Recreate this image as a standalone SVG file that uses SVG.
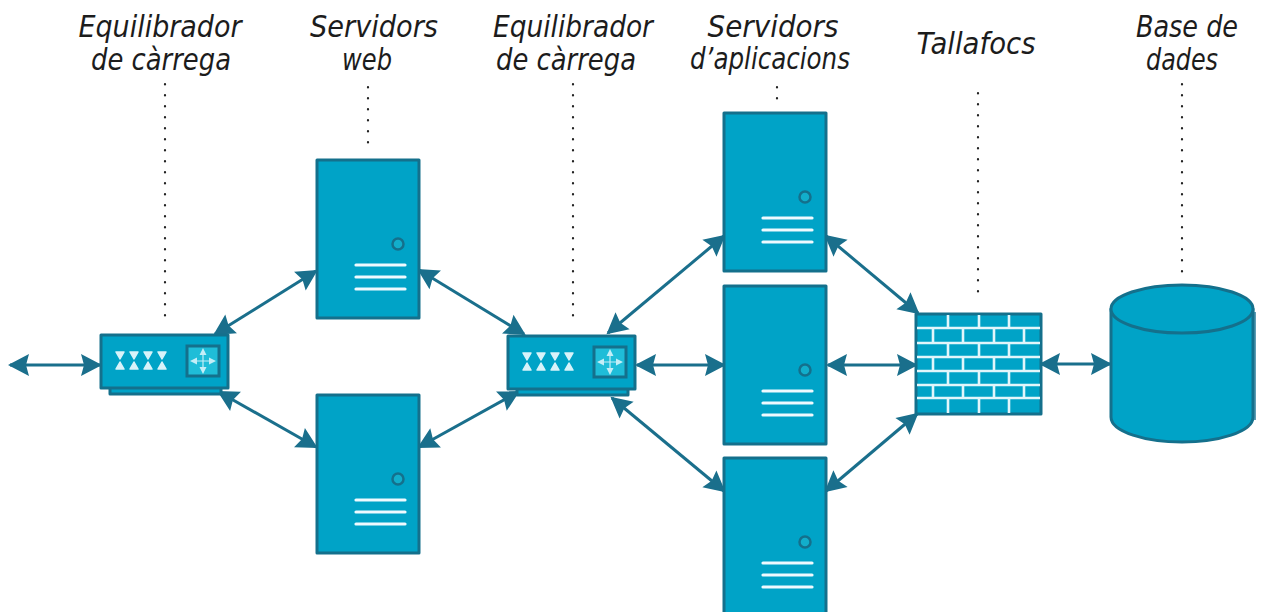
<svg xmlns="http://www.w3.org/2000/svg" width="1269" height="612" viewBox="0 0 1269 612">
<style>
.f{fill:#00a3c7;stroke:#14708c;stroke-width:3;stroke-linejoin:round}
.w{fill:none;stroke:#eefaff;stroke-width:3.2;stroke-linecap:round}
.c{fill:none;stroke:#1a6f8c;stroke-width:3;marker-start:url(#a);marker-end:url(#a)}
.d{fill:none;stroke:#222;stroke-width:2.2;stroke-dasharray:.5 10.5;stroke-linecap:round}
.t{font-family:"DejaVu Sans",sans-serif;font-style:italic;font-size:30px;fill:#1c1c1c;text-anchor:middle}
.b{fill:none;stroke:#e2f6fb;stroke-width:2.6}
</style>
<defs>
<marker id="a" markerUnits="userSpaceOnUse" markerWidth="28" markerHeight="28" refX="22" refY="14" orient="auto-start-reverse"><path d="M24 14L3 3L6 14L3 25Z" fill="#1a6f8c"/></marker>
<g id="srv">
<path class="f" d="M0 0H102V158H0Z"/>
<circle cx="81" cy="84" r="5.5" fill="#12aecb" stroke="#14708c" stroke-width="2.5"/>
<path class="w" d="M39 105H88M39 117H88M39 129H88"/>
</g>
<g id="lb">
<path class="f" d="M9 50H120V59H9Z"/>
<path class="f" d="M0 0H127V53H0Z"/>
<path fill="#1fbdd8" stroke="#14708c" stroke-width="3" d="M86 11H118V41H86Z"/>
<path d="M15 17h8l-4 7ZM29 17h8l-4 7ZM43 17h8l-4 7ZM57 17h8l-4 7ZM15 34l4 -7l4 7ZM29 34l4 -7l4 7ZM43 34l4 -7l4 7ZM57 34l4 -7l4 7Z" fill="#d8f3fa" stroke="#d8f3fa" stroke-width="1.5" stroke-linejoin="round"/>
<path d="M102 13l3.5 7h-7ZM102 39l3.5 -7h-7ZM89 26l7 -3.5v7ZM115 26l-7 -3.5v7Z" fill="#c4eef7"/>
<path d="M102 20V32M92 26H112" stroke="#c4eef7" stroke-width="1.2"/>
</g>
</defs>
<g id="guides">
<path class="d" d="M165 84V322M368 87V150M573 84V322M777 87V104M978 93V292M1182 84V275"/>
</g>
<g id="connectors">
<path class="c" d="M10 365H100"/>
<path class="c" d="M215 334L316 271"/>
<path class="c" d="M219 392L316 447"/>
<path class="c" d="M419 270L524 334"/>
<path class="c" d="M419 447L518 392"/>
<path class="c" d="M608 333L724 236"/>
<path class="c" d="M637 365H724"/>
<path class="c" d="M612 398L724 491"/>
<path class="c" d="M826 236L918 313"/>
<path class="c" d="M828 365H916"/>
<path class="c" d="M826 491L917 414"/>
<path class="c" d="M1041 364H1110"/>
</g>
<g id="lb1"><use href="#lb" x="101" y="335"/></g>
<g id="web1"><use href="#srv" x="317" y="160"/></g>
<g id="web2"><use href="#srv" x="317" y="395"/></g>
<g id="lb2"><use href="#lb" x="508" y="336"/></g>
<g id="app1"><use href="#srv" x="724" y="113"/></g>
<g id="app2"><use href="#srv" x="724" y="286"/></g>
<g id="app3"><use href="#srv" x="724" y="458"/></g>
<g id="firewall">
<path class="f" d="M916 314H1041V414H916Z"/>
<path class="b" d="M917 328H1040M917 343H1040M917 357H1040M917 371H1040M917 385H1040M917 398H1040"/>
<path class="b" d="M948 315V328M979 315V328M1009 315V328M933 328V343M963 328V343M994 328V343M1024 328V343M948 343V357M979 343V357M1009 343V357M933 357V371M963 357V371M994 357V371M1024 357V371M948 371V385M979 371V385M1009 371V385M933 385V398M963 385V398M994 385V398M1024 385V398M948 398V413M979 398V413M1009 398V413"/>
</g>
<g id="database">
<path d="M1253 312H1256V420H1253Z" fill="#5d9db4"/>
<path class="f" d="M1111 309V417C1111 432 1146 442 1182 442C1218 442 1253 432 1253 417V309Z"/>
<ellipse class="f" cx="1182" cy="309" rx="71" ry="24"/>
</g>
<g id="labels">
<text class="t" x="160" y="37" textLength="163" lengthAdjust="spacingAndGlyphs">Equilibrador</text>
<text class="t" x="161" y="70" textLength="140" lengthAdjust="spacingAndGlyphs">de càrrega</text>
<text class="t" x="374" y="37" textLength="128" lengthAdjust="spacingAndGlyphs">Servidors</text>
<text class="t" x="367" y="70" textLength="50" lengthAdjust="spacingAndGlyphs">web</text>
<text class="t" x="573" y="37" textLength="160" lengthAdjust="spacingAndGlyphs">Equilibrador</text>
<text class="t" x="566" y="70" textLength="140" lengthAdjust="spacingAndGlyphs">de càrrega</text>
<text class="t" x="773" y="37" textLength="131" lengthAdjust="spacingAndGlyphs">Servidors</text>
<text class="t" x="770" y="69" textLength="160" lengthAdjust="spacingAndGlyphs">d’aplicacions</text>
<text class="t" x="976" y="54" textLength="119" lengthAdjust="spacingAndGlyphs">Tallafocs</text>
<text class="t" x="1187" y="37" textLength="102" lengthAdjust="spacingAndGlyphs">Base de</text>
<text class="t" x="1182" y="70" textLength="72" lengthAdjust="spacingAndGlyphs">dades</text>
</g>
</svg>
